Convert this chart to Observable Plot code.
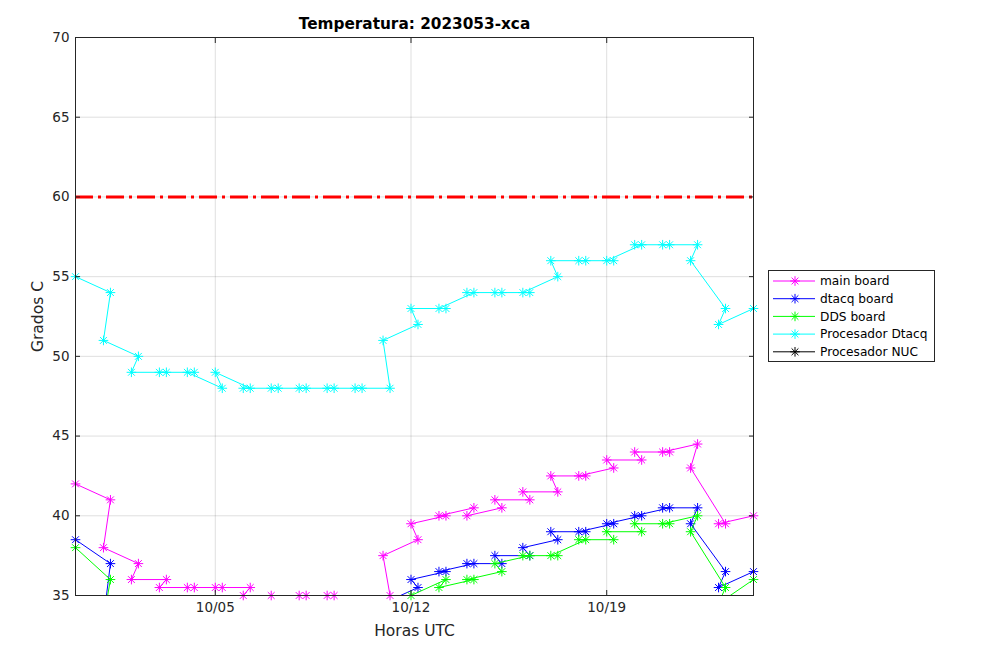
<!DOCTYPE html>
<html><head><meta charset="utf-8">
<script src="https://cdn.jsdelivr.net/npm/d3@7"></script>
<script src="https://cdn.jsdelivr.net/npm/@observablehq/plot@0.6"></script>
<style>
body{margin:0;background:#fff;}
#wrap{position:relative;width:1008px;height:661px;font-family:"DejaVu Sans",sans-serif;}
#legend{position:absolute;left:768px;top:270px;}
</style></head><body><div id="wrap"></div>
<script>
// sample times, in file order (the later reading of each day comes first)
const times = [
 "2023-09-30T00:00Z",
 "2023-10-01T06:00Z","2023-10-01T00:00Z",
 "2023-10-02T06:00Z","2023-10-02T00:00Z",
 "2023-10-03T06:00Z","2023-10-03T00:00Z",
 "2023-10-04T06:00Z","2023-10-04T00:00Z",
 "2023-10-05T06:00Z","2023-10-05T00:00Z",
 "2023-10-06T06:00Z","2023-10-06T00:00Z",
 "2023-10-07T06:00Z","2023-10-07T00:00Z",
 "2023-10-08T06:00Z","2023-10-08T00:00Z",
 "2023-10-09T06:00Z","2023-10-09T00:00Z",
 "2023-10-10T06:00Z","2023-10-10T00:00Z",
 "2023-10-11T06:00Z","2023-10-11T00:00Z",
 "2023-10-12T06:00Z","2023-10-12T00:00Z",
 "2023-10-13T06:00Z","2023-10-13T00:00Z",
 "2023-10-14T06:00Z","2023-10-14T00:00Z",
 "2023-10-15T06:00Z","2023-10-15T00:00Z",
 "2023-10-16T06:00Z","2023-10-16T00:00Z",
 "2023-10-17T06:00Z","2023-10-17T00:00Z",
 "2023-10-18T06:00Z","2023-10-18T00:00Z",
 "2023-10-19T06:00Z","2023-10-19T00:00Z",
 "2023-10-20T06:00Z","2023-10-20T00:00Z",
 "2023-10-21T06:00Z","2023-10-21T00:00Z",
 "2023-10-22T06:00Z","2023-10-22T00:00Z",
 "2023-10-23T06:00Z","2023-10-23T00:00Z",
 "2023-10-24T06:00Z"
];
const mainBoard = [42, 41,38, 37,36, 36,35.5, 35.5,35.5, 35.5,35.5, 35.5,35, 34.5,35, 35,35, 35,35, 34.5,34.5,
  35,37.5, 38.5,39.5, 40,40, 40.5,40, 40.5,41, 41,41.5, 41.5,42.5, 42.5,42.5, 43,43.5, 43.5,44, 44,44, 44.5,43, 39.5,39.5, 40];
const dtacqBoard = [38.5, 37,33.5, 33,32.5, 32.5,32, 32,32, 32,32, 32,32, 32,32, 32,32, 32,32, 32,32,
  32,34.5, 35.5,36, 36.5,36.5, 37,37, 37,37.5, 37.5,38, 38.5,39, 39,39, 39.5,39.5, 40,40, 40.5,40.5, 40.5,39.5, 36.5,35.5, 36.5];
const ddsBoard = [38, 36,33.5, 32.5,32, 32,31.5, 31.5,31.5, 31.5,31.5, 31.5,31.5, 31.5,31.5, 31.5,31.5, 31.5,31.5, 31.5,31.5,
  31.5,33, 34.5,35, 36,35.5, 36,36, 36.5,37, 37.5,37.5, 37.5,37.5, 38.5,38.5, 38.5,39, 39,39.5, 39.5,39.5, 40,39, 35.5,34.5, 36];
const procDtacq = [55, 54,51, 50,49, 49,49, 49,49, 48,49, 48,48, 48,48, 48,48, 48,48, 48,48,
  48,51, 52,53, 53,53, 54,54, 54,54, 54,54, 55,56, 56,56, 56,56, 57,57, 57,57, 57,56, 53,52, 53];
const procNUC = [];
const seriesNames = ["main board","dtacq board","DDS board","Procesador Dtacq","Procesador NUC"];
const seriesColors = ["#ff00ff","#0000ff","#00ff00","#00ffff","#000000"];
const seriesValues = [mainBoard, dtacqBoard, ddsBoard, procDtacq, procNUC];
const yTicks = [35,40,45,50,55,60,65,70];
const xTickDates = ["2023-10-05T00:00Z","2023-10-12T00:00Z","2023-10-19T00:00Z"];
const xDomainDates = ["2023-09-30T00:00Z","2023-10-24T06:00Z"];
const yDomain = [35,70];
const threshold = 60;
const title = "Temperatura: 2023053-xca";
const xLabel = "Horas UTC";
const yLabel = "Grados C";

const xTicks = xTickDates.map(d => new Date(d));
const xDomain = xDomainDates.map(d => new Date(d));
const axisColor = "#262626";

const seriesMarks = [];
seriesValues.forEach((vals, k) => {
  const rows = vals.map((v, i) => ({t: new Date(times[i]), v}));
  const color = seriesColors[k];
  seriesMarks.push(Plot.line(rows, {x: "t", y: "v", stroke: color, strokeWidth: 1, clip: true}));
  const vis = rows.filter(d => d.v >= yDomain[0] && d.v <= yDomain[1]);
  seriesMarks.push(Plot.dot(vis, {x: "t", y: "v", stroke: color, symbol: "plus", r: 3.2, strokeWidth: 1}));
  seriesMarks.push(Plot.dot(vis, {x: "t", y: "v", stroke: color, symbol: "times", r: 3.2, strokeWidth: 1}));
});

const chart = Plot.plot({
  width: 1008, height: 661,
  marginLeft: 75, marginRight: 255, marginTop: 37, marginBottom: 66,
  style: {fontFamily: "DejaVu Sans, sans-serif", fontSize: "13.5px", color: axisColor, background: "#fff"},
  x: {type: "utc", domain: xDomain},
  y: {domain: yDomain},
  marks: [
    Plot.gridX({ticks: xTicks, stroke: axisColor, strokeOpacity: 0.15}),
    Plot.gridY({ticks: yTicks, stroke: axisColor, strokeOpacity: 0.15}),
    Plot.ruleY([threshold], {stroke: "#ff0000", strokeWidth: 3, strokeDasharray: "18,5,3,5"}),
    ...seriesMarks,
    Plot.frame({stroke: axisColor}),
    Plot.axisX({anchor: "bottom", ticks: xTicks, tickFormat: d3.utcFormat("%m/%d"), tickSize: 0, tickPadding: 7, label: null, fill: axisColor}),
    Plot.axisX({anchor: "bottom", ticks: xTicks, tickSize: 5, dy: -5, tickFormat: () => "", label: null, stroke: axisColor}),
    Plot.axisX({anchor: "top", ticks: xTicks, tickSize: 5, dy: 5, tickFormat: () => "", label: null, stroke: axisColor}),
    Plot.axisY({anchor: "left", ticks: yTicks, tickSize: 0, tickPadding: 6, label: null, fill: axisColor}),
    Plot.axisY({anchor: "left", ticks: yTicks, tickSize: 5, dx: 5, tickFormat: () => "", label: null, stroke: axisColor}),
    Plot.axisY({anchor: "right", ticks: yTicks, tickSize: 5, dx: -5, tickFormat: () => "", label: null, stroke: axisColor}),
    Plot.text([title], {frameAnchor: "top", lineAnchor: "middle", textAnchor: "middle", dy: -13, fontWeight: "bold", fontSize: 15.3, fill: "#000"}),
    Plot.text([xLabel], {frameAnchor: "bottom", lineAnchor: "middle", textAnchor: "middle", dy: 36, fontSize: 15.5, fill: axisColor}),
    Plot.text([yLabel], {frameAnchor: "left", lineAnchor: "middle", textAnchor: "middle", dx: -37, rotate: -90, fontSize: 15.5, fill: axisColor})
  ]
});
const wrap = document.getElementById("wrap");
wrap.appendChild(chart);

// legend
const lg = d3.select(wrap).append("svg").attr("id", "legend")
  .attr("width", 168).attr("height", 93)
  .style("font-family", "DejaVu Sans, sans-serif").style("font-size", "12.2px");
lg.append("rect").attr("x", 0.5).attr("y", 0.5).attr("width", 166).attr("height", 91)
  .attr("fill", "#fff").attr("stroke", axisColor);
const sym = d3.symbol().size(32);
seriesNames.forEach((name, k) => {
  const g = lg.append("g").attr("transform", `translate(0,${11 + k * 17.7})`);
  g.append("line").attr("x1", 5).attr("x2", 47).attr("stroke", seriesColors[k]);
  g.append("path").attr("transform", "translate(27,0)").attr("d", sym.type(d3.symbolPlus)()).attr("fill", "none").attr("stroke", seriesColors[k]);
  g.append("path").attr("transform", "translate(27,0)").attr("d", sym.type(d3.symbolTimes)()).attr("fill", "none").attr("stroke", seriesColors[k]);
  g.append("text").attr("x", 52).attr("dy", "0.35em").attr("fill", "#000").text(name);
});
</script></body></html>
